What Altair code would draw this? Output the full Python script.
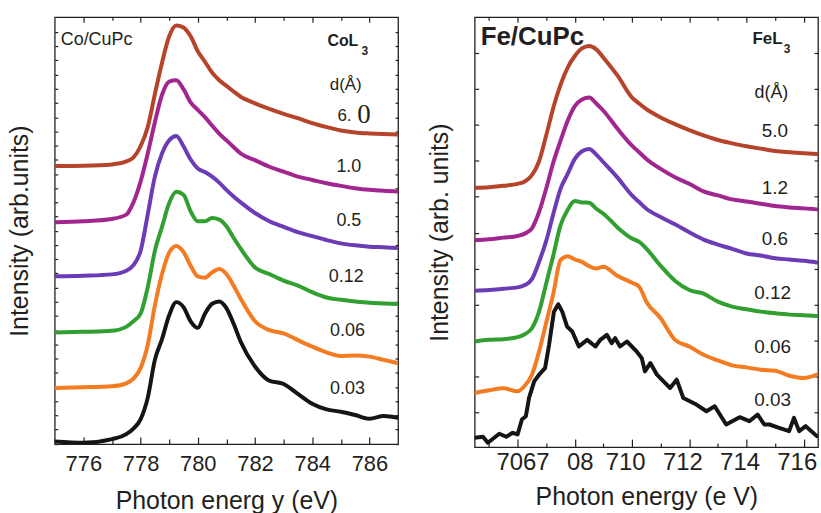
import altair as alt
import pandas as pd

# ---------------- Left panel: Co/CuPc, Co L3 edge ----------------
CO_ENERGY = [775, 776, 777, 777.5, 777.75, 778, 778.25, 778.5, 778.75, 779, 779.25, 779.5,
             779.75, 780, 780.25, 780.5, 780.75, 781, 781.25, 781.5, 782, 782.5, 783, 783.5,
             784, 784.5, 785, 785.5, 786, 786.5, 787]
CO_CURVES = ["6.0", "1.0", "0.5", "0.12", "0.06", "0.03"]
CO_COLORS = ["#b5442b", "#a1268f", "#6b3cb5", "#31a030", "#f37b21", "#151515"]
CO_60 = [842, 843, 847, 856, 868, 902, 960, 1060, 1155, 1235, 1268, 1262, 1235, 1190, 1158, 1125,
         1102, 1085, 1068, 1052, 1032, 1015, 1000, 987, 972, 960, 950, 944, 941, 939, 938]
CO_10 = [672, 675, 682, 695, 732, 795, 880, 975, 1058, 1098, 1102, 1075, 1035, 1012, 990, 965,
         940, 920, 900, 880, 860, 840, 825, 810, 800, 790, 782, 775, 770, 767, 765]
CO_05 = [508, 510, 514, 525, 542, 585, 695, 810, 880, 920, 933, 902, 862, 835, 824, 810,
         792, 770, 750, 732, 700, 675, 658, 642, 630, 618, 608, 602, 598, 596, 594]
CO_012 = [338, 340, 343, 355, 372, 395, 475, 585, 658, 730, 764, 755, 705, 675, 675, 685,
          680, 660, 625, 592, 535, 515, 495, 480, 460, 444, 437, 432, 428, 426, 424]
CO_006 = [170, 172, 175, 184, 198, 230, 300, 420, 515, 580, 600, 582, 540, 508, 504, 520,
          530, 515, 480, 440, 372, 345, 335, 315, 295, 278, 267, 268, 265, 255, 245]
CO_003 = [8, 4, 15, 30, 47, 75, 140, 255, 318, 390, 430, 415, 372, 352, 395, 425,
          432, 412, 365, 310, 235, 192, 182, 152, 122, 105, 98, 88, 77, 85, 80]

CO_TEXT = ["Co/CuPc", "CoL", "3", "d(Å)", "6.", "0", "1.0", "0.5", "0.12", "0.06", "0.03"]
CO_TEXT_X = [775.21, 784.53, 785.72, 785.17, 784.88, 785.57, 785.28, 785.28, 785.19, 785.23, 785.23]
CO_TEXT_Y = [1225, 1221, 1190, 1089, 993, 996, 840, 675, 507, 342, 166]
CO_TEXT_SIZE = [18, 16, 12, 17, 17, 27, 18, 18, 18, 18, 18]
CO_TEXT_WEIGHT = ["normal", "bold", "bold", "normal", "normal", "normal", "normal", "normal", "normal", "normal", "normal"]
CO_TEXT_ALIGN = ["left", "left", "left", "center", "left", "left", "center", "center", "center", "center", "center"]
CO_TEXT_FONT = ["sans", "sans", "sans", "sans", "sans", "serif", "sans", "sans", "sans", "sans", "sans"]

# ---------------- Right panel: Fe/CuPc, Fe L3 edge ----------------
FE_ENERGY = [704.5, 705, 705.5, 706, 706.25, 706.5, 706.75, 707, 707.25, 707.5, 707.75, 708,
             708.25, 708.5, 708.75, 709, 709.5, 710, 710.25, 710.5, 711, 711.5, 712, 712.5,
             713, 713.5, 714, 714.5, 715, 715.5, 716, 716.46]
FE_CURVES = ["5.0", "1.2", "0.6", "0.12", "0.06", "0.03"]
FE_COLORS = ["#b5442b", "#a1268f", "#6b3cb5", "#31a030", "#f37b21", "#151515"]
FE_50 = [781, 783, 787, 793, 800, 819, 861, 939, 1023, 1091, 1143, 1178, 1201, 1208, 1198, 1173,
         1118, 1053, 1035, 1018, 993, 973, 955, 939, 925, 915, 906, 899, 892, 888, 885, 883]
FE_12 = [623, 626, 631, 636, 643, 659, 708, 779, 858, 923, 983, 1027, 1047, 1053, 1035, 1013,
         958, 908, 888, 868, 838, 813, 793, 770, 758, 746, 740, 733, 726, 722, 719, 716]
FE_06 = [471, 473, 477, 481, 488, 506, 558, 621, 703, 778, 823, 868, 891, 898, 881, 858,
         811, 758, 738, 718, 693, 671, 647, 625, 610, 597, 583, 577, 569, 565, 561, 556]
FE_012 = [318, 323, 325, 331, 340, 358, 408, 493, 578, 668, 715, 741, 737, 736, 718, 703,
          661, 628, 618, 598, 546, 501, 473, 462, 438, 423, 415, 408, 403, 399, 397, 395]
FE_006 = [163, 171, 177, 168, 185, 218, 288, 375, 463, 563, 575, 565, 558, 545, 538, 543,
          515, 495, 483, 438, 388, 323, 303, 278, 261, 246, 240, 233, 230, 215, 208, 218]
FE_003_ENERGY = [704.5, 704.79, 704.96, 705.36, 705.6, 705.83, 706.0, 706.15, 706.29, 706.4,
                 706.58, 706.75, 706.96, 707.1, 707.27, 707.42, 707.56, 707.73, 707.91, 708.14,
                 708.43, 708.72, 708.89, 709.12, 709.29, 709.41, 709.58, 709.82, 710.16, 710.34,
                 710.45, 710.64, 710.87, 711.1, 711.33, 711.56, 711.79, 712.25, 712.6, 712.89,
                 713.29, 713.76, 714.1, 714.39, 714.62, 714.8, 715.14, 715.49, 715.66, 715.84,
                 716.07, 716.46]
FE_003 = [28, 31, 13, 40, 31, 43, 38, 83, 93, 148, 198, 218, 238, 308, 408, 430, 408, 363, 348,
          303, 323, 303, 323, 338, 313, 328, 303, 318, 288, 268, 228, 253, 218, 198, 178, 203,
          148, 128, 108, 123, 68, 90, 78, 98, 68, 68, 58, 48, 88, 48, 63, 33]

FE_TEXT = ["Fe/CuPc", "FeL", "3", "d(Å)", "5.0", "1.2", "0.6", "0.12", "0.06", "0.03"]
FE_TEXT_X = [704.71, 714.21, 715.30, 714.87, 714.99, 714.99, 714.99, 714.91, 714.91, 714.91]
FE_TEXT_Y = [1234, 1230, 1199, 1068, 953, 780, 626, 465, 300, 141]
FE_TEXT_SIZE = [26, 17, 12, 18, 19, 19, 19, 19, 19, 19]
FE_TEXT_WEIGHT = ["bold", "bold", "bold", "normal", "normal", "normal", "normal", "normal", "normal", "normal"]
FE_TEXT_ALIGN = ["left", "left", "left", "center", "center", "center", "center", "center", "center", "center"]
FE_TEXT_FONT = ["sans"] * 10

SANS = "Liberation Sans"
SERIF = "Liberation Serif"
INK = "#231f20"


def long_df(series):
    rows = []
    for name, xs, ys in series:
        for x, y in zip(xs, ys):
            rows.append({"curve": name, "energy": x, "intensity": y})
    return pd.DataFrame(rows, columns=["curve", "energy", "intensity"])


def panel(df_smooth, df_noisy, names, colors, xdom, ydom, width, height, label_groups,
          minor, yticks, ylen, xmaj_len, xmin_len, lab_size, lab_pad, xtitle, title_pad,
          ytitle, ytitle_pad, texts):
    xs = alt.Scale(domain=xdom, nice=False, zero=False)
    ys = alt.Scale(domain=ydom, nice=False, zero=False)
    color = alt.Color("curve:N", scale=alt.Scale(domain=names, range=colors), legend=None)
    major = sorted(v for g in label_groups for v in g["values"])

    def X(axis):
        return alt.X("energy:Q", scale=xs, axis=axis)

    def Y(axis):
        return alt.Y("intensity:Q", scale=ys, axis=axis)

    def label_axis(group, with_title):
        kw = dict(orient="bottom", values=group["values"], ticks=False, domain=False, grid=False,
                  labelFontSize=lab_size, labelPadding=lab_pad, labelFont=SANS,
                  labelColor=INK, labelOffset=group["offset"])
        if group.get("expr"):
            kw["labelExpr"] = group["expr"]
        if with_title:
            kw.update(title=xtitle, titleFontSize=25, titleFont=SANS, titleColor=INK,
                      titleFontWeight="normal", titlePadding=title_pad)
        else:
            kw["title"] = None
        return alt.Axis(**kw)

    layers = [
        alt.Chart(df_smooth).mark_line(strokeWidth=4, strokeJoin="round", strokeCap="round",
                                       interpolate="monotone", clip=True).encode(
            x=X(label_axis(label_groups[0], True)),
            y=Y(alt.Axis(orient="left", labels=False, ticks=False, domain=False, grid=False,
                         title=ytitle, titleFontSize=25, titleFont=SANS, titleColor=INK,
                         titleFontWeight="normal", titlePadding=ytitle_pad)),
            color=color,
        )
    ]
    if len(df_noisy):
        layers.append(
            alt.Chart(df_noisy).mark_line(strokeWidth=4, strokeJoin="round", strokeCap="round",
                                          clip=True).encode(x=X(None), y=Y(None), color=color)
        )

    def tick_axis(orient, values, size):
        return alt.Axis(orient=orient, values=values, labels=False, domain=False, grid=False,
                        title=None, ticks=True, tickSize=size, offset=-size,
                        tickColor=INK, tickWidth=1.2)

    ghost = alt.Chart(df_smooth).mark_point(opacity=0)
    for g in label_groups[1:]:
        layers.append(ghost.encode(x=X(label_axis(g, False)), y=Y(None)))
    layers += [
        ghost.encode(x=X(tick_axis("bottom", major, xmaj_len)), y=Y(tick_axis("left", yticks, ylen))),
        ghost.encode(x=X(tick_axis("top", major, 5)), y=Y(tick_axis("right", yticks, ylen))),
        ghost.encode(x=X(tick_axis("bottom", minor, xmin_len)), y=Y(None)),
        ghost.encode(x=X(tick_axis("top", minor, 3)), y=Y(None)),
    ]
    tdf = pd.DataFrame(texts)
    for (font, weight, align), grp in tdf.groupby(["font", "weight", "align"]):
        layers.append(
            alt.Chart(grp).mark_text(font=SERIF if font == "serif" else SANS,
                                     fontWeight=weight, align=align, baseline="middle",
                                     color=INK).encode(
                x=X(None), y=Y(None), text="t:N", size=alt.Size("fs:Q", scale=None))
        )
    return alt.layer(*layers).resolve_axis(x="independent", y="independent").properties(
        width=width, height=height)


co_df = long_df(zip(CO_CURVES, [CO_ENERGY] * 6, [CO_60, CO_10, CO_05, CO_012, CO_006, CO_003]))
fe_smooth = long_df(zip(FE_CURVES[:5], [FE_ENERGY] * 5, [FE_50, FE_12, FE_06, FE_012, FE_006]))
fe_noisy = long_df([(FE_CURVES[5], FE_003_ENERGY, FE_003)])

co_texts = {"t": CO_TEXT, "energy": CO_TEXT_X, "intensity": CO_TEXT_Y, "fs": CO_TEXT_SIZE,
            "weight": CO_TEXT_WEIGHT, "align": CO_TEXT_ALIGN, "font": CO_TEXT_FONT}
fe_texts = {"t": FE_TEXT, "energy": FE_TEXT_X, "intensity": FE_TEXT_Y, "fs": FE_TEXT_SIZE,
            "weight": FE_TEXT_WEIGHT, "align": FE_TEXT_ALIGN, "font": FE_TEXT_FONT}

left = panel(co_df, long_df([]), CO_CURVES, CO_COLORS, [775, 787], [0, 1293], 345, 429,
             [{"values": [776, 778, 780, 782, 784, 786], "offset": 0}],
             [777, 779, 781, 783, 785],
             list(range(1, 1249, 43)), 3, 7, 5, 22, 10,
             "Photon energ y (eV)", 14, "Intensity (arb.units)", 22, co_texts)

right = panel(fe_smooth, fe_noisy, FE_CURVES, FE_COLORS, [704.5, 716.5], [0, 1295], 345, 432,
              [{"values": [710, 712, 714, 716], "offset": -7},
               {"values": [706, 708], "offset": 5,
                "expr": "datum.value == 706 ? '7067' : '08'"}],
              [705, 707, 709, 711, 713, 715],
              list(range(106, 1187, 108)), 4, 8, 4, 24, 4,
              "Photon energy (e V)", 10, "Intensity (arb. units)", 22, fe_texts)

chart = alt.hconcat(left, right, spacing=25).properties(
    padding={"left": 7, "top": 14, "right": 0, "bottom": 0},
    background="white",
).configure_view(stroke=INK, strokeWidth=1.3)

chart.save("out.html", embed_options={"renderer": "svg", "actions": False})
